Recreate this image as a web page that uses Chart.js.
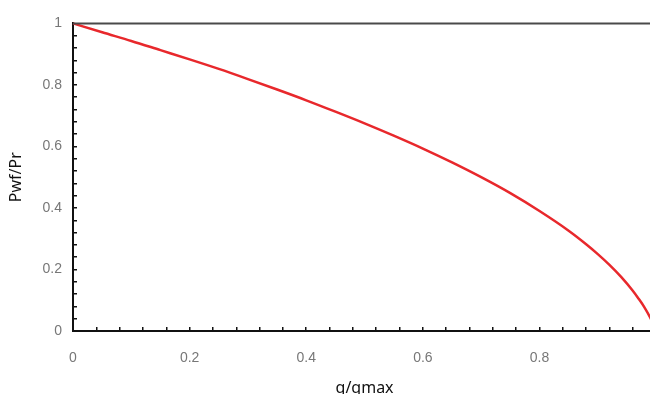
<!DOCTYPE html>
<html>
<head>
<meta charset="utf-8">
<script src="https://cdn.jsdelivr.net/npm/chart.js@4"></script>
<style>
html,body{margin:0;padding:0;background:#fff;overflow:hidden;}
#wrap{width:650px;height:394px;overflow:hidden;}
</style>
</head>
<body>
<div id="wrap"><canvas id="iprChart" width="683" height="394"></canvas></div>
<script>
// values (q/qmax vs Pwf/Pr)
const qRatio = [0, 0.05, 0.1, 0.15, 0.2, 0.25, 0.3, 0.35, 0.4, 0.45, 0.5, 0.55, 0.6, 0.65, 0.7, 0.75, 0.8, 0.85, 0.88, 0.9, 0.92, 0.94, 0.96, 0.97, 0.98, 0.99, 1.0];
const pRatio = [1, 0.971, 0.943, 0.913, 0.883, 0.852, 0.819, 0.785, 0.75, 0.713, 0.675, 0.635, 0.593, 0.548, 0.5, 0.448, 0.39, 0.326, 0.282, 0.25, 0.215, 0.176, 0.131, 0.105, 0.077, 0.043, 0];
const xTitle = 'q/qmax';
const yTitle = 'Pwf/Pr';

const tickFont = { family: 'Liberation Sans', size: 14 };
const titleFont = { family: 'Noto Sans', size: 16 };

function majorLabel(v) {
  // only label every 0.2, the rest are minor marks
  if (Math.abs(v * 5 - Math.round(v * 5)) > 1e-6) return '';
  return String(Number(v.toFixed(1)));
}

/* top frame line */
const topLine = {
  id: 'topLine',
  afterDraw(chart) {
    const a = chart.chartArea, c = chart.ctx;
    c.save();
    c.strokeStyle = '#4a4a4a';
    c.lineWidth = 2;
    c.beginPath();
    c.moveTo(a.left, a.top);
    c.lineTo(a.right, a.top);
    c.stroke();
    c.restore();
  }
};

new Chart(document.getElementById('iprChart').getContext('2d'), {
  type: 'line',
  data: {
    datasets: [{
      data: qRatio.map((q, i) => ({ x: q, y: pRatio[i] })),
      borderColor: '#e8282c',
      borderWidth: 2.5,
      pointRadius: 0,
      fill: false,
      cubicInterpolationMode: 'monotone',
      clip: false
    }]
  },
  options: {
    responsive: false,
    animation: false,
    layout: { padding: { top: 19, right: 0, left: 0, bottom: 0 } },
    plugins: { legend: { display: false }, tooltip: { enabled: false } },
    scales: {
      x: {
        type: 'linear', min: 0, max: 1,
        border: { color: '#111', width: 2 },
        grid: { drawOnChartArea: false, drawTicks: true, tickLength: -4, color: '#111', lineWidth: 1.5 },
        ticks: { stepSize: 0.04, autoSkip: false, maxRotation: 0, padding: 23, color: '#777', font: tickFont, callback: majorLabel },
        title: { display: true, text: xTitle, color: '#111', font: titleFont, padding: { top: 0, bottom: -4 } },
        afterFit(s) { s.height = 63; }
      },
      y: {
        type: 'linear', min: 0, max: 1,
        border: { color: '#111', width: 2 },
        grid: { drawOnChartArea: false, drawTicks: true, tickLength: -4, color: '#111', lineWidth: 1.5 },
        ticks: { stepSize: 0.04, autoSkip: false, padding: 15, color: '#777', font: tickFont, callback: majorLabel },
        title: { display: true, text: yTitle, color: '#111', font: titleFont, padding: { top: 7, bottom: 0 } },
        afterFit(s) { s.width = 73; }
      }
    }
  },
  plugins: [topLine]
});
</script>
</body>
</html>
